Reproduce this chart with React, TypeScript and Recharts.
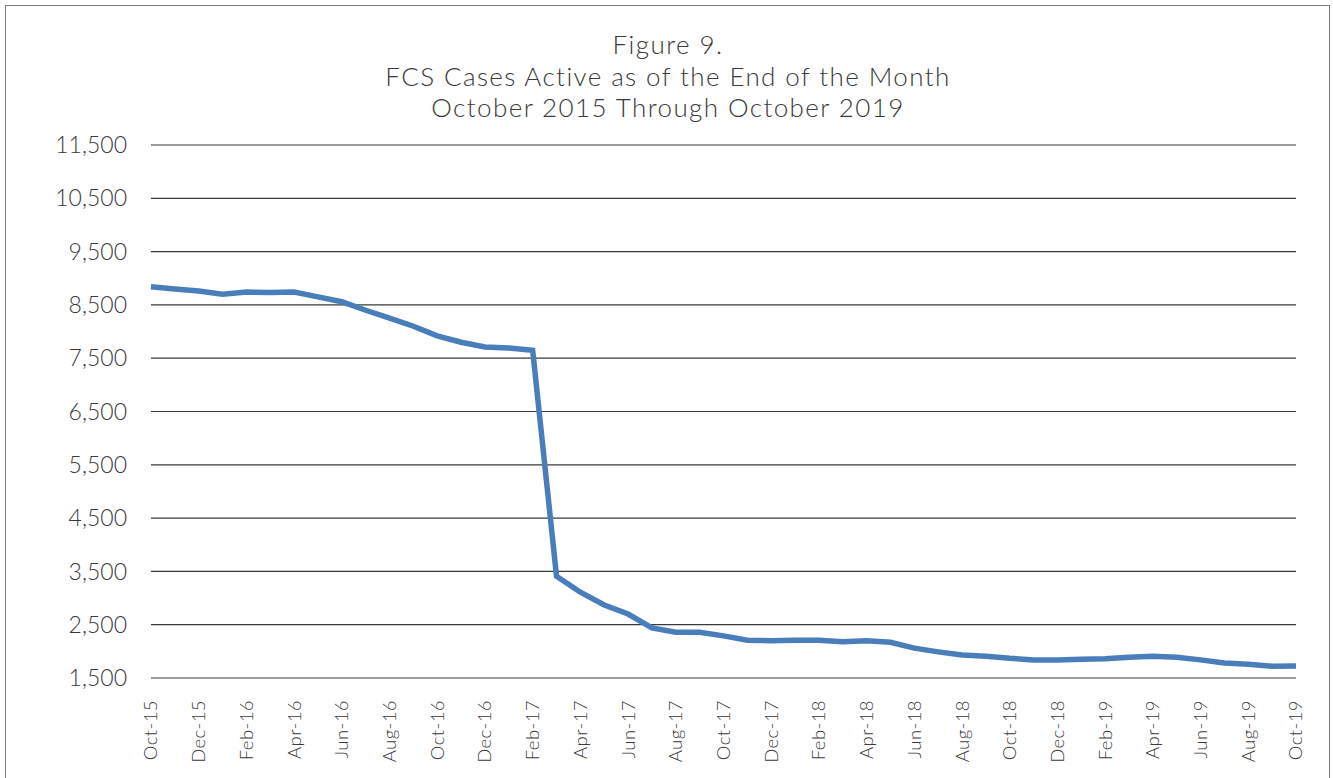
import React from "react";
import { LineChart, Line, XAxis, YAxis, CartesianGrid } from "recharts";

const months: string[] = [
  "Oct-15","Nov-15","Dec-15","Jan-16","Feb-16","Mar-16","Apr-16","May-16","Jun-16","Jul-16","Aug-16","Sep-16",
  "Oct-16","Nov-16","Dec-16","Jan-17","Feb-17","Mar-17","Apr-17","May-17","Jun-17","Jul-17","Aug-17","Sep-17",
  "Oct-17","Nov-17","Dec-17","Jan-18","Feb-18","Mar-18","Apr-18","May-18","Jun-18","Jul-18","Aug-18","Sep-18",
  "Oct-18","Nov-18","Dec-18","Jan-19","Feb-19","Mar-19","Apr-19","May-19","Jun-19","Jul-19","Aug-19","Sep-19",
  "Oct-19",
];

const activeCases: number[] = [
  8840, 8800, 8760, 8700, 8740, 8735, 8740, 8650, 8560, 8400, 8250, 8100,
  7920, 7800, 7710, 7690, 7650, 3410, 3110, 2870, 2700, 2440, 2360, 2360,
  2290, 2210, 2200, 2210, 2210, 2180, 2200, 2170, 2060, 1990, 1930, 1910,
  1870, 1840, 1840, 1850, 1860, 1890, 1910, 1890, 1840, 1780, 1760, 1720,
  1725,
];

const yTicks: number[] = [1500, 2500, 3500, 4500, 5500, 6500, 7500, 8500, 9500, 10500, 11500];

const titleLines: string[] = [
  "Figure 9.",
  "FCS Cases Active as of the End of the Month",
  "October 2015 Through October 2019",
];

const data = months.map((m, i) => ({ month: m, cases: activeCases[i] }));

const FONT = "Lato, 'DejaVu Sans', sans-serif";
const TEXT = "#3a3a3a";

const XTick = (props: any) => {
  const { x, y, payload } = props;
  const ay = y + 14;
  return (
    <text
      x={x}
      y={ay}
      dy="0.35em"
      transform={`rotate(-90, ${x}, ${ay})`}
      textAnchor="end"
      fontSize={18.5}
      fontFamily={FONT}
      fontWeight={300}
      fill={TEXT}
      letterSpacing={0.4}
    >
      {payload.value}
    </text>
  );
};

export default function App() {
  return (
    <div style={{ position: "absolute", left: 0, top: 0, width: 1333, height: 778, background: "#fff" }}>
      <div
        style={{
          position: "absolute",
          left: 5,
          top: 5,
          width: 1325,
          height: 790,
          border: "1px solid #7f7f7f",
          boxSizing: "border-box",
        }}
      />
      {titleLines.map((t, i) => (
        <div
          key={i}
          style={{
            position: "absolute",
            left: 0,
            width: 1336,
            top: 29 + i * 31.5,
            textAlign: "center",
            fontFamily: FONT,
            fontWeight: 300,
            fontSize: 26,
            color: TEXT,
            lineHeight: "30px",
            letterSpacing: 1.4,
          }}
        >
          {t}
        </div>
      ))}
      <div style={{ position: "absolute", left: 0, top: 0 }}>
        <LineChart
          width={1333}
          height={778}
          data={data}
          margin={{ top: 145, right: 37, bottom: 0, left: 0 }}
        >
          <CartesianGrid vertical={false} stroke="#3a3a3a" strokeWidth={1.2} />
          <XAxis
            dataKey="month"
            interval={1}
            axisLine={false}
            tickLine={false}
            tick={<XTick />}
            height={100}
          />
          <YAxis
            domain={[1500, 11500]}
            ticks={yTicks}
            type="number"
            width={151}
            axisLine={false}
            tickLine={false}
            tickSize={0}
            tickMargin={24}
            tickFormatter={(v: number) => v.toLocaleString("en-US")}
            tick={{ fontSize: 23, fontFamily: FONT, fontWeight: 300, fill: TEXT }}
          />
          <Line
            type="linear"
            dataKey="cases"
            stroke="#4a7ebb"
            strokeWidth={5.5}
            dot={false}
            isAnimationActive={false}
          />
        </LineChart>
      </div>
    </div>
  );
}
